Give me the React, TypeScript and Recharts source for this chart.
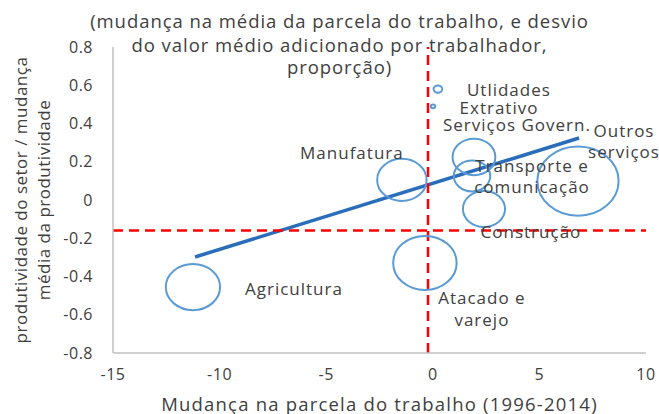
import React from 'react';
import { ScatterChart, Scatter, XAxis, YAxis, ZAxis, ReferenceLine } from 'recharts';

// ---- data ----
const sectors = ['Agricultura', 'Manufatura', 'Atacado e varejo', 'Serviços Govern.', 'Transporte e comunicação', 'Construção', 'Outros serviços', 'Utlidades', 'Extrativo'];
const laborShareChange = [-11.25, -1.45, -0.37, 1.93, 1.84, 2.4, 6.81, 0.24, 0.01];
const productivityDeviation = [-0.455, 0.105, -0.329, 0.225, 0.126, -0.047, 0.099, 0.58, 0.49];
const bubbleWeight = [15.8, 13.1, 21.6, 9.8, 7.1, 9.5, 35.4, 0.4, 0.1];
const sectorLabelLines = [['Agricultura'], ['Manufatura'], ['Atacado e', 'varejo'], ['Serviços Govern.'], ['Transporte e', 'comunicação'], ['Construção'], ['Outros', 'serviços'], ['Utlidades'], ['Extrativo']];
const trendLine = [{ x: -11.15, y: -0.298 }, { x: 6.86, y: 0.324 }];
const meanLaborShareChange = -0.225;
const meanProductivityDeviation = -0.159;
const xTicks = [-15, -10, -5, 0, 5, 10];
const yTicks = [-0.8, -0.6, -0.4, -0.2, 0, 0.2, 0.4, 0.6, 0.8];
const titleLines = ['(mudança na média da parcela do trabalho, e desvio', 'do valor médio adicionado por trabalhador,', 'proporção)'];
const xTitle = 'Mudança na parcela do trabalho (1996-2014)';
const yTitleLines = ['produtividade do setor / mudança', 'média da produtividade'];

// ---- styles ----
const FONT = '"Open Sans", sans-serif';
const TEXT = '#404040';
const labelOffsets: Record<string, { dx: number; dy: number; gap?: number }> = {
  'Agricultura': { dx: 101, dy: 1 },
  'Manufatura': { dx: -50, dy: -27 },
  'Atacado e varejo': { dx: 57, dy: 35, gap: 22 },
  'Serviços Govern.': { dx: 43, dy: -32 },
  'Transporte e comunicação': { dx: 60, dy: -10, gap: 21 },
  'Construção': { dx: 47, dy: 23 },
  'Outros serviços': { dx: 46, dy: -51, gap: 21 },
  'Utlidades': { dx: 71, dy: 0 },
  'Extrativo': { dx: 66, dy: 1 },
};

const data = sectors.map((name, i) => ({
  name,
  x: laborShareChange[i],
  y: productivityDeviation[i],
  z: bubbleWeight[i],
  lines: sectorLabelLines[i],
}));

const Bubble = (props: any) => {
  const { cx, cy, width, size } = props;
  const r = width ? width / 2 : Math.sqrt(Math.max(size || 0, 0) / Math.PI);
  return <ellipse cx={cx} cy={cy} rx={r * 1.08} ry={r * 0.92} fill="none" stroke="#5B9BD5" strokeWidth={2} />;
};

const BubbleLabel = (props: any) => {
  const { cx, cy, payload } = props;
  const o = labelOffsets[payload.name] || { dx: 0, dy: 0 };
  const gap = o.gap || 21;
  return (
    <g>
      {payload.lines.map((t: string, k: number) => (
        <text key={k} x={cx + o.dx} y={cy + o.dy + k * gap} textAnchor="middle" dominantBaseline="central"
          fontFamily={FONT} fontSize={17} letterSpacing={1} fill={TEXT}>{t}</text>
      ))}
    </g>
  );
};

const YTitle = (props: any) => {
  const vb = props.viewBox || {};
  const cy = vb.y + vb.height / 2;
  const xs = [20, 43];
  return (
    <g>
      {yTitleLines.map((t, k) => (
        <text key={k} x={xs[k]} y={cy} transform={`rotate(-90, ${xs[k]}, ${cy})`} textAnchor="middle"
          dominantBaseline="central" fontFamily={FONT} fontSize={17} letterSpacing={0.5} fill={TEXT}>{t}</text>
      ))}
    </g>
  );
};

const XTitle = (props: any) => {
  const vb = props.viewBox || {};
  const cx = vb.x + vb.width / 2;
  return (
    <text x={cx} y={403} textAnchor="middle" dominantBaseline="central" fontFamily={FONT} fontSize={18.5}
      letterSpacing={1.2} fill={TEXT}>{xTitle}</text>
  );
};

export default function App() {
  const titleYs = [21, 45, 67];
  return (
    <div style={{ position: 'absolute', left: 0, top: 0, width: 659, height: 414, background: '#fff', fontFamily: FONT }}>
      <ScatterChart width={659} height={414} margin={{ top: 47, right: 13, bottom: 0, left: 0 }}>
        <XAxis type="number" dataKey="x" domain={[-15, 10]} ticks={xTicks}
          tickLine={false} axisLine={{ stroke: '#BFBFBF', strokeWidth: 1.5 }} height={61}
          tick={{ fill: TEXT, fontSize: 16, fontFamily: FONT, letterSpacing: 0.5 }} tickMargin={10}
          label={{ content: XTitle }} />
        <YAxis type="number" dataKey="y" domain={[-0.8, 0.8]} ticks={yTicks}
          tickLine={false} axisLine={{ stroke: '#BFBFBF', strokeWidth: 1.5 }} width={113}
          tickFormatter={(v: number) => (v === 0 ? '0' : v.toFixed(1))}
          tick={{ fill: TEXT, fontSize: 16, fontFamily: FONT, letterSpacing: 0.5 }} tickMargin={14}
          label={{ content: YTitle }} />
        <ZAxis type="number" dataKey="z" domain={[0, 40]} range={[0, 1600 * Math.PI]} />
        <Scatter data={data} shape={Bubble} isAnimationActive={false} />
        <ReferenceLine segment={trendLine} stroke="#2A6EBB" strokeWidth={3.5} />
        <ReferenceLine x={meanLaborShareChange} stroke="#FF0000" strokeWidth={2.5} strokeDasharray="10 6" />
        <ReferenceLine y={meanProductivityDeviation} stroke="#FF0000" strokeWidth={2.5} strokeDasharray="10 6" />
        <Scatter data={data} shape={BubbleLabel} isAnimationActive={false} />
      </ScatterChart>
      {titleLines.map((t, k) => (
        <div key={k} style={{ position: 'absolute', left: 10, width: 659, top: titleYs[k] - 10, height: 20, lineHeight: '20px',
          textAlign: 'center', fontSize: 18.5, letterSpacing: 0.95, color: TEXT, whiteSpace: 'nowrap', pointerEvents: 'none' }}>{t}</div>
      ))}
    </div>
  );
}
